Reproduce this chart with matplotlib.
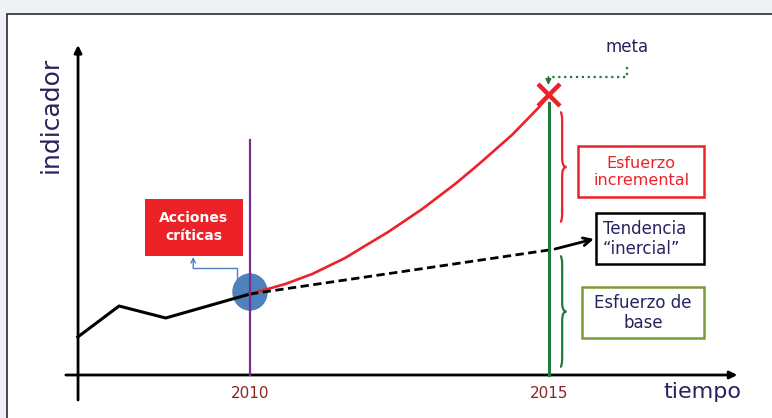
import numpy as np
import matplotlib.pyplot as plt
from matplotlib.patches import Rectangle, Ellipse, PathPatch
from matplotlib.path import Path

# indicator history up to the base year
hist_years = [2007.12, 2007.81, 2008.59, 2010.0]
hist_values = [3.8, 6.9, 5.7, 8.1]

# path needed to reach the goal
goal_years = [2010.0, 2010.59, 2011.04, 2011.59, 2011.92, 2012.31, 2012.88, 2013.43, 2013.81,
              2014.38, 2014.82, 2015.0]
goal_values = [8.1, 9.1, 10.1, 11.7, 12.9, 14.3, 16.6, 19.1, 21.0, 24.0, 26.7, 28.0]

# inertial trend
trend_years = [2010.0, 2015.0]
trend_values = [8.1, 12.5]
trend_tip = (2015.75, 13.6)

base_year = 2010
goal_year = 2015
goal_value = 28.0
year_labels = ['2010', '2015']

navy = '#26235e'
red = '#ed2228'
green = '#1e7b3c'
blue = '#4f81bd'

fig = plt.figure(figsize=(7.72, 4.18), dpi=100, facecolor='#eef2f6')
ax = fig.add_axes([0, 0, 1, 1])
ax.set_xlim(2005.819, 2018.729)
ax.set_ylim(-4.3, 37.5)
ax.axis('off')

# white slide panel
ax.add_patch(Rectangle((0.009, -0.05), 1.1, 0.0165 + 1.0, transform=ax.transAxes,
                       facecolor='white', edgecolor='#2a2a2a', lw=1.2, zorder=0))

# axes arrows
arr = dict(arrowstyle='-|>', lw=2.0, color='black', shrinkA=0, shrinkB=0, mutation_scale=11)
ax.annotate('', xy=(2018.15, 0), xytext=(2006.92, 0), arrowprops=arr, zorder=3)
ax.annotate('', xy=(2007.124, 33.0), xytext=(2007.124, -2.5), arrowprops=arr, zorder=3)

ax.text(2006.66, 26.0, 'indicador', rotation=90, ha='center', va='center',
        fontsize=18, color=navy)
ax.text(2017.56, -1.7, 'tiempo', ha='center', va='center', fontsize=16, color=navy)
for yr, lab in zip([base_year, goal_year], year_labels):
    ax.text(yr, -1.8, lab, ha='center', va='center', fontsize=11, color='#8b2323')

# base year marker
ax.add_patch(Ellipse((base_year, 8.3), 0.57, 3.6, color=blue, zorder=2))
ax.plot([base_year, base_year], [0, 23.5], color='#7a2e8e', lw=1.6, zorder=5)
ax.plot([goal_year, goal_year], [0, 27.2], color=green, lw=2.2, zorder=5)

ax.plot(hist_years, hist_values, color='black', lw=2.2, zorder=4)
ax.plot(goal_years, goal_values, color=red, lw=1.9, zorder=4, solid_joinstyle='round')
ax.plot(trend_years, trend_values, color='black', lw=2.0, ls=(0, (3, 1.6)), zorder=4)
ax.annotate('', xy=trend_tip, xytext=(2015.1, 12.6),
            arrowprops=dict(arrowstyle='->', lw=2.0, color='black', shrinkA=0, shrinkB=0,
                            mutation_scale=14), zorder=4)
ax.plot([goal_year], [goal_value], marker='x', ms=16, mew=3.2, color=red, zorder=6)

# meta pointer
ax.text(2016.30, 32.8, 'meta', ha='center', va='center', fontsize=12, color=navy)
ax.plot([2016.30, 2016.30, 2014.99], [30.8, 29.8, 29.8], color=green, lw=1.6, ls=':')
ax.annotate('', xy=(2014.99, 29.0), xytext=(2014.99, 29.8),
            arrowprops=dict(arrowstyle='-|>', lw=1.2, color=green, shrinkA=0, shrinkB=0,
                            mutation_scale=8))


def brace(x, y0, y1, color, w=0.07, c=0.9):
    ym = (y0 + y1) / 2
    verts = [(x - w * 0.5, y1), (x, y1), (x, y1 - c),
             (x, ym + c),
             (x, ym), (x + w, ym),
             (x, ym), (x, ym - c),
             (x, y0 + c),
             (x, y0), (x - w * 0.5, y0)]
    codes = [Path.MOVETO, Path.CURVE3, Path.CURVE3,
             Path.LINETO,
             Path.CURVE3, Path.CURVE3,
             Path.CURVE3, Path.CURVE3,
             Path.LINETO,
             Path.CURVE3, Path.CURVE3]
    ax.add_patch(PathPatch(Path(verts, codes), fill=False, edgecolor=color, lw=1.6))


brace(2015.22, 15.3, 26.3, red)
brace(2015.22, 0.8, 11.9, green)

# labelled boxes
ax.add_patch(Rectangle((2015.49, 17.8), 2.10, 5.1, fill=False, edgecolor=red, lw=1.8))
ax.text(2016.54, 20.3, 'Esfuerzo\nincremental', ha='center', va='center',
        fontsize=11.5, color=red, linespacing=1.1)

ax.add_patch(Rectangle((2015.79, 11.1), 1.81, 5.1, fill=False, edgecolor='black', lw=1.8))
ax.text(2015.90, 13.6, 'Tendencia\n\u201cinercial\u201d', ha='left', va='center',
        fontsize=12, color=navy, linespacing=1.1)

ax.add_patch(Rectangle((2015.55, 3.7), 2.04, 5.1, fill=False, edgecolor='#7a9a3a', lw=1.8))
ax.text(2016.57, 6.2, 'Esfuerzo de\nbase', ha='center', va='center',
        fontsize=12, color=navy, linespacing=1.1)

ax.add_patch(Rectangle((2008.24, 11.9), 1.64, 5.7, facecolor=red, edgecolor='none'))
ax.text(2009.06, 14.8, 'Acciones\ncr\u00edticas', ha='center', va='center',
        fontsize=10, color='white', fontweight='bold', linespacing=1.3)

# connector from the base-year circle to the actions box
ax.plot([2009.78, 2009.78, 2009.05], [9.4, 10.7, 10.7], color=blue, lw=1.0)
ax.annotate('', xy=(2009.05, 11.8), xytext=(2009.05, 10.7),
            arrowprops=dict(arrowstyle='->', lw=1.0, color=blue, shrinkA=0, shrinkB=0,
                            mutation_scale=8))

fig.savefig('out.png', dpi=100, facecolor=fig.get_facecolor())
